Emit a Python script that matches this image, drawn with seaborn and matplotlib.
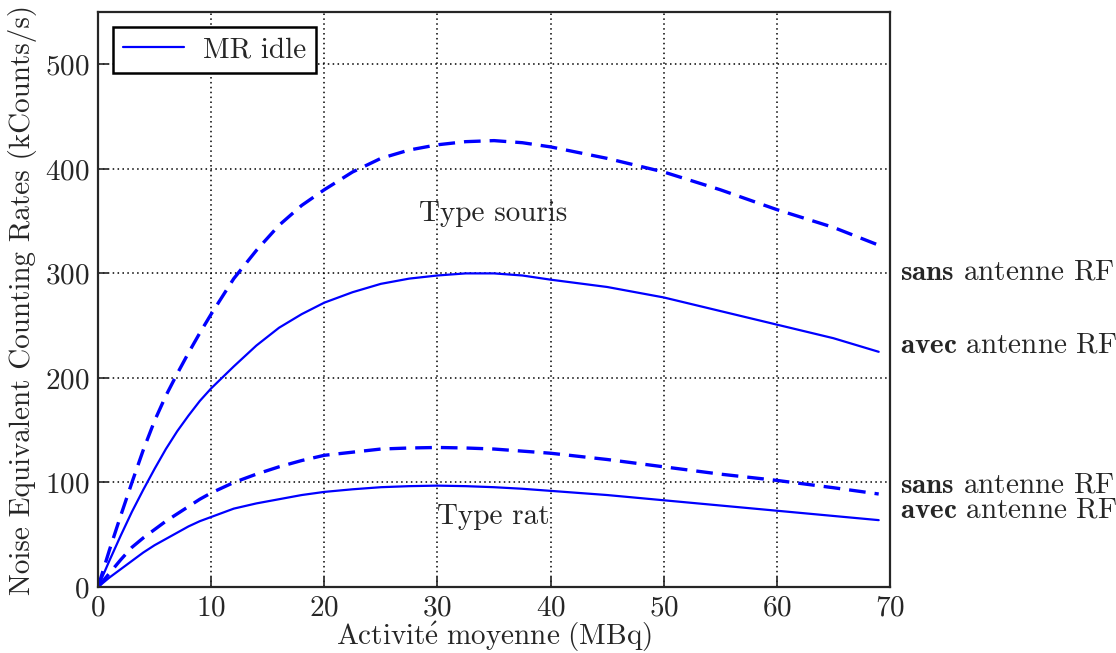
import numpy as np
import pandas as pd
import seaborn as sns
import matplotlib.pyplot as plt

# activity (MBq) and NECR values (kCounts/s)
activite = [0, 1, 2, 3, 4, 5, 6, 7, 8, 9, 10, 12, 14, 16, 18, 20, 22.5, 25, 27.5,
            30, 32.5, 35, 37.5, 40, 45, 50, 55, 60, 65, 69]
souris_sans = [0, 35, 68, 100, 131, 159, 183, 204, 224, 243, 261, 295, 322, 346, 365,
               380, 397, 410, 418, 423, 426, 427, 425, 421, 410, 397, 380, 361, 344, 327]
souris_avec = [0, 25, 49, 72, 93, 113, 132, 149, 164, 178, 190, 211, 231, 248, 261,
               272, 282, 290, 295, 298, 300, 300, 298, 294, 287, 277, 264, 251, 238, 225]
rat_sans = [0, 13, 26, 38, 47, 55, 63, 70, 77, 84, 90, 100, 108, 115, 121,
            126, 129, 132, 133, 133.5, 133, 132, 130, 128, 122, 115, 108, 102, 95, 89]
rat_avec = [0, 9, 17, 25, 33, 40, 46, 52, 58, 63, 67, 75, 80, 84, 88,
            91, 93.5, 95.5, 96.5, 97, 96.5, 95.5, 94, 92, 88, 83, 78, 73, 68, 64]

sns.set_style("ticks")
plt.rcParams['font.family'] = ['cmr10', 'DejaVu Serif']
plt.rcParams['mathtext.fontset'] = 'cm'
plt.rcParams['axes.formatter.use_mathtext'] = True
plt.rcParams['axes.unicode_minus'] = False

fig = plt.figure(figsize=(11.16, 6.53), dpi=100)
ax = fig.add_axes([0.0878, 0.101, 0.7097, 0.8806])

blue = '#0000ff'
dash = (5, 2.7)
sns.lineplot(x=activite, y=souris_avec, ax=ax, color=blue, lw=1.6)
sns.lineplot(x=activite, y=rat_avec, ax=ax, color=blue, lw=1.6)
sns.lineplot(x=activite, y=souris_sans, ax=ax, color=blue, lw=2.4)
ax.lines[-1].set_dashes(dash)
sns.lineplot(x=activite, y=rat_sans, ax=ax, color=blue, lw=2.4)
ax.lines[-1].set_dashes(dash)

ax.set_xlim(0, 70)
ax.set_ylim(0, 550)
ax.set_xticks(range(0, 71, 10))
ax.set_yticks(range(0, 501, 100))
ax.grid(True, color='black', linestyle=(0, (1, 2.2)), linewidth=1.1)
ax.tick_params(direction='in', length=7, width=1.2, labelsize=21, pad=6)
for s in ax.spines.values():
    s.set_linewidth(1.6)
    s.set_visible(True)

ax.set_xlabel(r'$\mathrm{Activit\acute{e}\ moyenne\ (MBq)}$', fontsize=21, labelpad=-1)
ax.set_ylabel('Noise Equivalent Counting Rates (kCounts/s)', fontsize=21, labelpad=6)

leg = ax.legend(handles=[ax.lines[0]], labels=['MR idle'], loc='upper left',
                fontsize=21, fancybox=False, edgecolor='black', framealpha=1,
                handlelength=2.1, handletextpad=0.65, borderpad=0.35,
                borderaxespad=0.5, bbox_to_anchor=(0.0, 1.0))
leg.get_frame().set_linewidth(1.8)

ax.text(34.9, 357, 'Type souris', fontsize=21, ha='center', va='center')
ax.text(34.9, 67, 'Type rat', fontsize=21, ha='center', va='center')

lab_y = [301, 231, 97, 73]
lab_t = [r'$\mathbf{sans}$ antenne RF', r'$\mathbf{avec}$ antenne RF',
         r'$\mathbf{sans}$ antenne RF', r'$\mathbf{avec}$ antenne RF']
for yy, tt in zip(lab_y, lab_t):
    ax.text(70.9, yy, tt, fontsize=21, ha='left', va='center', clip_on=False)

fig.savefig('out.png', dpi=100)
